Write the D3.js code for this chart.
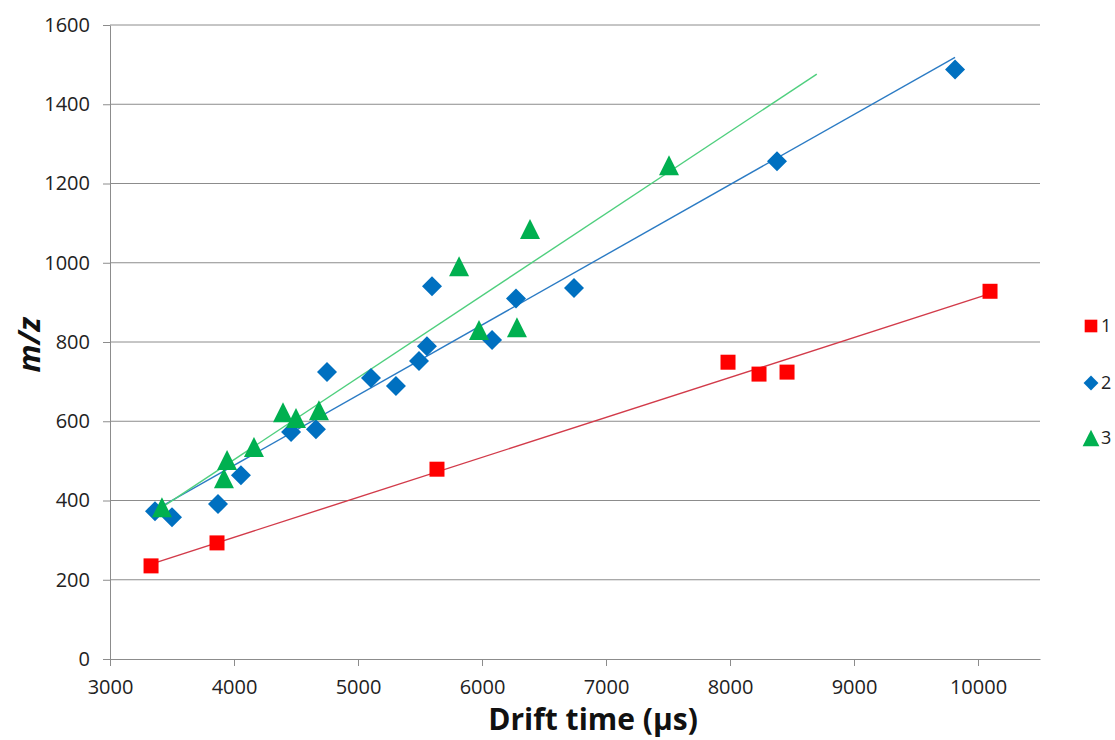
<!DOCTYPE html>
<html>
<head>
<meta charset="utf-8">
<script src="https://cdn.jsdelivr.net/npm/d3@7"></script>
<style>
  html, body { margin: 0; padding: 0; background: #ffffff; }
  svg { display: block; font-family: "Open Sans", "Liberation Sans", sans-serif; }
</style>
</head>
<body>
<svg id="chart" width="1115" height="740"></svg>
<script>
// Drift time (µs) vs m/z for three ion series
const series1X = [3331, 3863, 5637, 7984, 8234, 8460, 10097];
const series1Y = [235, 293, 479, 749, 719, 724, 928];

const series2X = [3363, 3500, 3871, 4056, 4460, 4661, 4750, 5105, 5306, 5492, 5556, 5597, 6081, 6274, 6742, 8379, 9815];
const series2Y = [373, 358, 391, 464, 573, 580, 724, 709, 689, 752, 789, 941, 805, 910, 936, 1256, 1488];

const series3X = [3419, 3944, 3919, 4161, 4395, 4500, 4685, 5815, 6387, 5976, 6282, 7508];
const series3Y = [383, 502, 456, 535, 623, 608, 628, 991, 1085, 830, 837, 1246];

const seriesNames = ["1", "2", "3"];
// Trendline forward forecast end (drift time); null = last data point
const trendEnds = [null, null, 8700];

const xTicks = [3000, 4000, 5000, 6000, 7000, 8000, 9000, 10000];
const yTicks = [0, 200, 400, 600, 800, 1000, 1200, 1400, 1600];

const markerColors = ["#ff0000", "#0070c0", "#00b050"];
const lineColors = ["#d23b4a", "#2b7bc4", "#4fcf7e"];

// Triangle centred on its bounding box, as wide as it is tall
const boxTriangle = {
  draw(context, size) {
    const s = Math.sqrt(size * 2); // area = s*s/2
    context.moveTo(0, -s / 2);
    context.lineTo(s / 2, s / 2);
    context.lineTo(-s / 2, s / 2);
    context.closePath();
  }
};

// square, diamond (square turned 45°), triangle
const markerShapes = [d3.symbolSquare, d3.symbolSquare, boxTriangle];
const markerRotate = [0, 45, 0];
const markerSizes = [225, 200, 200];

const svg = d3.select("#chart");
const margin = { left: 110, right: 75, top: 25, bottom: 81 };
const W = 1115, H = 740;

const x = d3.scaleLinear().domain([3000, 10500]).range([margin.left, W - margin.right]);
const y = d3.scaleLinear().domain([0, 1600]).range([H - margin.bottom, margin.top]);

const gridColor = "#8c8c8c";
const fmt = d3.format("d");

// horizontal gridlines
svg.append("g")
  .selectAll("line")
  .data(yTicks.filter(t => t > 0))
  .join("line")
  .attr("x1", x(3000)).attr("x2", x(10500))
  .attr("y1", d => y(d)).attr("y2", d => y(d))
  .attr("stroke", gridColor).attr("stroke-width", 1);

// y axis
const yAxis = svg.append("g")
  .attr("transform", `translate(${x(3000)},0)`)
  .call(d3.axisLeft(y).tickValues(yTicks).tickFormat(fmt).tickSize(7).tickPadding(13).tickSizeOuter(0));
yAxis.select(".domain").attr("stroke", gridColor);
yAxis.selectAll(".tick line").attr("stroke", gridColor);
yAxis.selectAll(".tick text")
  .attr("font-size", 20).attr("fill", "#222").attr("font-family", "'Open Sans', sans-serif");

// x axis
const xAxis = svg.append("g")
  .attr("transform", `translate(0,${y(0)})`)
  .call(d3.axisBottom(x).tickValues(xTicks).tickFormat(fmt).tickSize(7).tickPadding(14).tickSizeOuter(0));
xAxis.select(".domain").attr("stroke", gridColor);
xAxis.selectAll(".tick line").attr("stroke", gridColor);
xAxis.selectAll(".tick text")
  .attr("font-size", 20).attr("fill", "#222").attr("font-family", "'Open Sans', sans-serif");

// axis titles
svg.append("text")
  .attr("x", 593).attr("y", 730)
  .attr("text-anchor", "middle")
  .attr("font-size", 30).attr("font-weight", "bold").attr("fill", "#111")
  .text("Drift time (µs)");

svg.append("text")
  .attr("transform", `translate(40,345) rotate(-90)`)
  .attr("text-anchor", "middle")
  .attr("font-size", 31).attr("font-weight", "bold").attr("font-style", "italic").attr("fill", "#111")
  .text("m/z");

const allSeries = [
  { xs: series1X, ys: series1Y },
  { xs: series2X, ys: series2Y },
  { xs: series3X, ys: series3Y }
];

// least-squares linear trendlines
function fit(xs, ys) {
  const n = xs.length;
  const mx = d3.mean(xs), my = d3.mean(ys);
  let sxy = 0, sxx = 0;
  for (let i = 0; i < n; i++) { sxy += (xs[i] - mx) * (ys[i] - my); sxx += (xs[i] - mx) ** 2; }
  const b = sxy / sxx;
  return { a: my - b * mx, b };
}

const trendG = svg.append("g");
allSeries.forEach((s, i) => {
  const f = fit(s.xs, s.ys);
  const x0 = d3.min(s.xs);
  const x1 = trendEnds[i] != null ? trendEnds[i] : d3.max(s.xs);
  trendG.append("line")
    .attr("x1", x(x0)).attr("y1", y(f.a + f.b * x0))
    .attr("x2", x(x1)).attr("y2", y(f.a + f.b * x1))
    .attr("stroke", lineColors[i]).attr("stroke-width", 1.4);
});

// markers
const markG = svg.append("g");
allSeries.forEach((s, i) => {
  const sym = d3.symbol().type(markerShapes[i]).size(markerSizes[i]);
  markG.append("g")
    .selectAll("path")
    .data(s.xs.map((v, k) => [v, s.ys[k]]))
    .join("path")
    .attr("d", sym)
    .attr("transform", d => `translate(${x(d[0])},${y(d[1])}) rotate(${markerRotate[i]})`)
    .attr("fill", markerColors[i]);
});

// legend
const legend = svg.append("g");
const legendY = [326, 383, 438];
const legendSizes = [160, 110, 140];
seriesNames.forEach((name, i) => {
  legend.append("path")
    .attr("d", d3.symbol().type(markerShapes[i]).size(legendSizes[i]))
    .attr("transform", `translate(1091,${legendY[i]}) rotate(${markerRotate[i]})`)
    .attr("fill", markerColors[i]);
  legend.append("text")
    .attr("x", 1101).attr("y", legendY[i] + 6)
    .attr("font-size", 18).attr("fill", "#222")
    .text(name);
});
</script>
</body>
</html>
